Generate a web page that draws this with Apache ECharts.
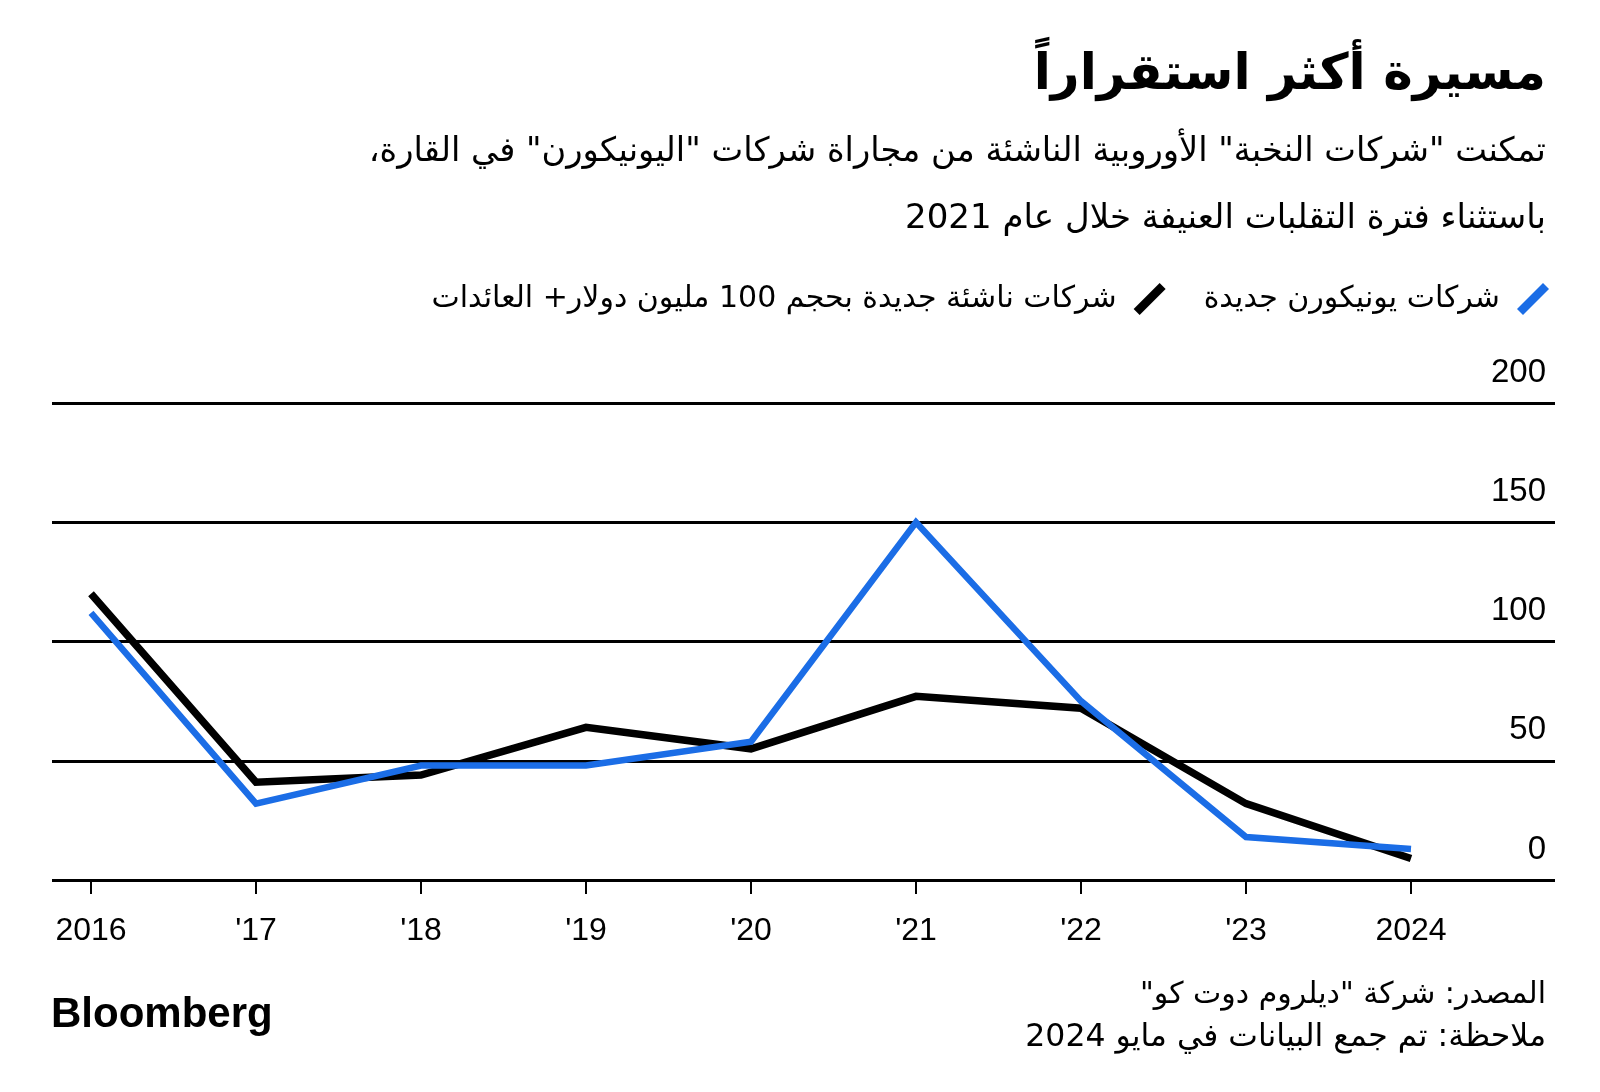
<!DOCTYPE html>
<html>
<head>
<meta charset="utf-8">
<script src="https://cdn.jsdelivr.net/npm/echarts@6/dist/echarts.min.js"></script>
<style>
html,body{margin:0;padding:0;background:#fff;}
#chart{width:1600px;height:1092px;}
</style>
</head>
<body>
<div id="chart"></div>
<script>
// ---- data ----
const years = ['2016', "'17", "'18", "'19", "'20", "'21", "'22", "'23", '2024'];
const unicorns = [112, 32, 48, 48, 58, 150, 75, 18, 13];          // blue
const bigStartups = [120, 41, 44, 64, 55, 77, 72, 32, 9];          // black
const yTickLabels = [0, 50, 100, 150, 200];

const nameUnicorn = 'شركات يونيكورن جديدة';
const nameBig = 'شركات ناشئة جديدة بحجم 100 مليون دولار+ العائدات';
const titleText = 'مسيرة أكثر استقراراً';
const sub1 = 'تمكنت "شركات النخبة" الأوروبية الناشئة من مجاراة شركات "اليونيكورن" في القارة،';
const sub2 = 'باستثناء فترة التقلبات العنيفة خلال عام 2021';
const src1 = 'المصدر: شركة "ديلروم دوت كو"';
const src2 = 'ملاحظة: تم جمع البيانات في مايو 2024';

const RLM = '\u200F';
const rtl = s => RLM + s + RLM;

const AR = "'DejaVu Sans', sans-serif";
const LAT = "'Liberation Sans', Arial, sans-serif";
const BLUE = '#1b6de6';

const chart = echarts.init(document.getElementById('chart'));
chart.setOption({
  animation: false,
  backgroundColor: '#fff',
  grid: [
    {left: 91, right: 189, top: 403, bottom: 212},
    {left: 52, right: 45, top: 403, bottom: 212}
  ],
  xAxis: [
    {
      type: 'category', gridIndex: 0, data: years, boundaryGap: false,
      axisLine: {show: false},
      axisTick: {show: true, alignWithLabel: true, length: 14, lineStyle: {color: '#000', width: 2}},
      axisLabel: {color: '#000', fontSize: 32, fontFamily: LAT, margin: 35, interval: 0},
      splitLine: {show: false}
    },
    {type: 'value', gridIndex: 1, show: false, min: 0, max: 1}
  ],
  yAxis: [
    {type: 'value', gridIndex: 0, min: 0, max: 200, show: false},
    {
      type: 'value', gridIndex: 1, min: 0, max: 200, interval: 50, position: 'right',
      axisLine: {show: false}, axisTick: {show: false},
      splitLine: {show: true, lineStyle: {color: '#000', width: 3}},
      axisLabel: {
        inside: true, margin: 9, color: '#000', fontSize: 33, fontFamily: LAT,
        verticalAlign: 'bottom', padding: [0, 0, 14, 0],
        formatter: v => yTickLabels.includes(v) ? String(v) : ''
      }
    }
  ],
  legend: {
    data: [nameBig, nameUnicorn],
    right: 46, top: 278,
    align: 'right',
    itemWidth: 32, itemHeight: 32, itemGap: 38,
    icon: 'path://M26,0 L32,6 L6,32 L0,26 Z',
    itemStyle: {borderWidth: 0},
    lineStyle: {width: 0},
    textStyle: {color: '#000', fontSize: 30, fontFamily: AR, padding: [0, 12, 0, 0]}
  },
  series: [
    {
      name: nameBig, type: 'line', xAxisIndex: 0, yAxisIndex: 0, data: bigStartups,
      symbol: 'none', color: '#000', lineStyle: {color: '#000', width: 7.5, join: 'miter'}, z: 3
    },
    {
      name: nameUnicorn, type: 'line', xAxisIndex: 0, yAxisIndex: 0, data: unicorns,
      symbol: 'none', color: BLUE, lineStyle: {color: BLUE, width: 6.5, join: 'miter'}, z: 4
    }
  ],
  graphic: [
    {type: 'text', x: 1546, y: 76, style: {text: rtl(titleText), fill: '#000', font: 'bold 50px ' + AR, align: 'right', verticalAlign: 'middle'}},
    {type: 'text', x: 1546, y: 152, style: {text: rtl(sub1), fill: '#000', font: '33.7px ' + AR, align: 'right', verticalAlign: 'middle'}},
    {type: 'text', x: 1546, y: 219, style: {text: rtl(sub2), fill: '#000', font: '34px ' + AR, align: 'right', verticalAlign: 'middle'}},
    {type: 'text', x: 1546, y: 995, style: {text: rtl(src1), fill: '#000', font: '30px ' + AR, align: 'right', verticalAlign: 'middle'}},
    {type: 'text', x: 1546, y: 1038, style: {text: rtl(src2), fill: '#000', font: '31.5px ' + AR, align: 'right', verticalAlign: 'middle'}},
    {type: 'text', x: 51, y: 1015, style: {text: 'Bloomberg', fill: '#000', font: 'bold 42px ' + LAT, align: 'left', verticalAlign: 'middle'}}
  ]
});
</script>
</body>
</html>
